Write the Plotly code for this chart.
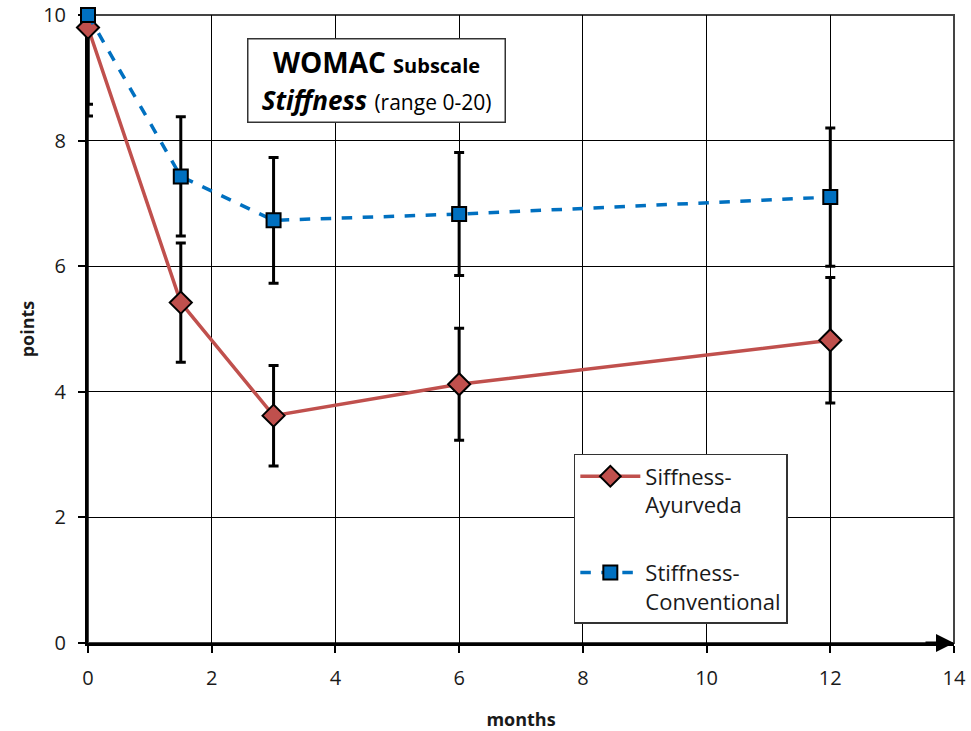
import plotly.graph_objects as go

months = [0, 1.5, 3, 6, 12]
ayur = [9.8, 5.42, 3.62, 4.12, 4.82]
ayur_err = [1.41, 0.95, 0.8, 0.89, 1.0]
conv = [10.0, 7.43, 6.73, 6.83, 7.1]
conv_err = [1.42, 0.95, 1.0, 0.98, 1.1]
x_ticks = [0, 2, 4, 6, 8, 10, 12, 14]
y_ticks = [0, 2, 4, 6, 8, 10]

FONT = "Open Sans"
fig = go.Figure()

# error bars (clipped to plot area)
for vals, errs in [(conv, conv_err), (ayur, ayur_err)]:
    fig.add_trace(go.Scatter(
        x=months, y=vals, mode="markers", showlegend=False, hoverinfo="skip",
        marker=dict(size=1, opacity=0),
        error_y=dict(type="data", array=errs, color="black", thickness=3, width=5),
        cliponaxis=True,
    ))

fig.add_trace(go.Scatter(
    x=months, y=ayur, name="Siffness-<br>Ayurveda", legendgroup="a",
    mode="lines+markers",
    line=dict(color="#C0504D", width=3.5),
    marker=dict(symbol="diamond", size=17, color="#C0504D", line=dict(color="black", width=2)),
    cliponaxis=False,
))
fig.add_trace(go.Scatter(
    x=months, y=conv, name="Stiffness-<br>Conventional", legendgroup="b",
    mode="lines+markers",
    line=dict(color="#0070C0", width=3.5, dash="dash"),
    marker=dict(symbol="square", size=14, color="#0070C0", line=dict(color="black", width=2)),
    cliponaxis=False,
))

fig.update_layout(
    width=971, height=731,
    margin=dict(l=88, r=17, t=15, b=88),
    paper_bgcolor="white", plot_bgcolor="white",
    font=dict(family=FONT, size=16, color="#1a1a1a"),
    legend=dict(
        x=0.561, y=0.301, xanchor="left", yanchor="top",
        bgcolor="white", bordercolor="#333", borderwidth=1.5,
        font=dict(size=22, family=FONT), tracegroupgap=36,
        traceorder="grouped", itemwidth=60, valign="top",
    ),
    xaxis=dict(
        range=[0, 14], tickvals=x_ticks, showgrid=True, gridcolor="black", gridwidth=1,
        showline=True, linecolor="black", linewidth=3, ticks="outside", ticklen=7,
        tickwidth=2, tickcolor="black", zeroline=False, automargin=False,
        ticklabelstandoff=8, ticklabeloverflow="allow", layer="below traces",
        title=dict(text="<b>months</b>", font=dict(size=18), standoff=28),
        tickfont=dict(size=20),
    ),
    yaxis=dict(
        range=[0, 10], tickvals=y_ticks, showgrid=True, gridcolor="black", gridwidth=1,
        showline=True, linecolor="black", linewidth=3, ticks="outside", ticklen=7,
        tickwidth=2, tickcolor="black", zeroline=False, automargin=False,
        ticklabelstandoff=8, ticklabeloverflow="allow", layer="below traces",
        title=dict(text="<b>points</b>", font=dict(size=18), standoff=4),
        tickfont=dict(size=20),
    ),
    shapes=[dict(type="rect", xref="paper", yref="paper", x0=0, y0=0, x1=1, y1=1,
                 line=dict(color="#444", width=2), layer="below")],
    annotations=[
        dict(x=4.67, y=8.95, xref="x", yref="y", showarrow=False,
             text="<b><span style='font-size:28px'>WOMAC</span> <span style='font-size:20px'>Subscale</span></b><br>"
                  "<b><i><span style='font-size:26px'>Stiffness</span></i></b> <span style='font-size:21px'>(range 0-20)</span>",
             bgcolor="white", bordercolor="#333", borderwidth=1.5, borderpad=2,
             width=252, height=78,
             font=dict(family=FONT, color="black", size=28), align="center"),
        dict(x=14, y=0, xref="x", yref="y", ax=-30, ay=0, axref="pixel", ayref="pixel",
             showarrow=True, arrowhead=2, arrowsize=1.2, arrowwidth=3, arrowcolor="black", text=""),
    ],
)

fig.write_html("out.html", config={"displayModeBar": False},
               post_script="document.body.style.margin='0';")
